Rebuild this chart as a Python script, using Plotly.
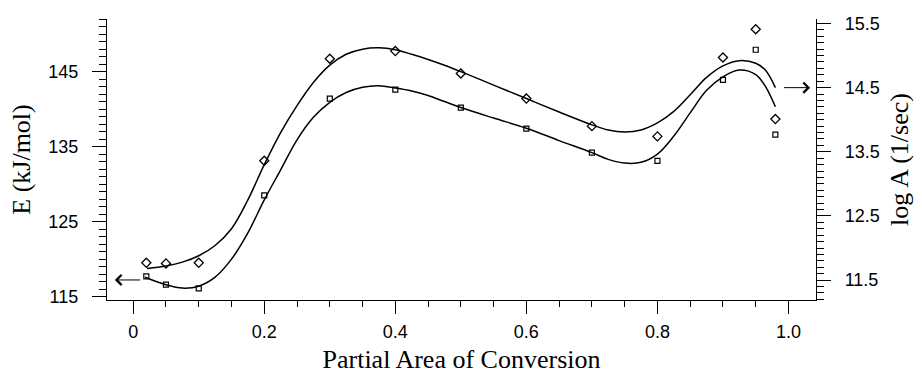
import plotly.graph_objects as go

# Measured points
conversion = [0.02, 0.05, 0.1, 0.2, 0.3, 0.4, 0.5, 0.6, 0.7, 0.8, 0.9, 0.95, 0.98]
E_kJmol = [117.7, 116.6, 116.1, 128.5, 141.4, 142.6, 140.2, 137.4, 134.2, 133.1, 143.9, 147.9, 136.6]
logA = [11.77, 11.76, 11.77, 13.36, 14.95, 15.07, 14.72, 14.33, 13.90, 13.74, 14.97, 15.41, 14.01]

# Fitted curves
fitA_x = [0.021, 0.05, 0.075, 0.1, 0.125, 0.15, 0.175, 0.2, 0.225, 0.25, 0.275, 0.3, 0.325, 0.35,
          0.375, 0.4, 0.425, 0.45, 0.475, 0.5, 0.55, 0.6, 0.65, 0.7, 0.725, 0.75, 0.775, 0.8,
          0.825, 0.85, 0.875, 0.9, 0.925, 0.95, 0.965, 0.98]
fitA_y = [11.68, 11.72, 11.78, 11.88, 12.04, 12.30, 12.75, 13.30, 13.80, 14.22, 14.58, 14.85, 15.02, 15.10,
          15.12, 15.09, 15.02, 14.94, 14.85, 14.75, 14.54, 14.33, 14.12, 13.92, 13.84, 13.81, 13.84, 13.95,
          14.13, 14.39, 14.66, 14.84, 14.92, 14.88, 14.77, 14.50]
fitE_x = [0.018, 0.05, 0.075, 0.1, 0.125, 0.15, 0.175, 0.2, 0.225, 0.25, 0.275, 0.3, 0.325, 0.35,
          0.375, 0.4, 0.425, 0.45, 0.475, 0.5, 0.55, 0.6, 0.65, 0.7, 0.725, 0.75, 0.775, 0.8,
          0.825, 0.85, 0.875, 0.9, 0.925, 0.95, 0.965, 0.98]
fitE_y = [117.6, 116.6, 116.15, 116.4, 117.6, 120.0, 123.5, 127.9, 131.9, 135.9, 138.9, 140.9, 142.2, 142.9,
          143.1, 142.8, 142.4, 141.8, 141.0, 140.2, 138.8, 137.45, 135.8, 134.2, 133.3, 132.8, 132.9, 134.0,
          136.4, 139.5, 142.5, 144.3, 145.2, 144.6, 143.0, 140.3]

# Axis settings
x_range = [-0.040, 1.042]
yE_range = [114.56, 152.0]
yA_range = [11.19, 15.57]
arrowE = dict(tail_x=0.013, head_x=-0.028, y=117.23)
arrowA = dict(tail_x=0.991, head_x=1.033, y=14.5)

SANS = "Liberation Sans, Arial, sans-serif"
SERIF = "Liberation Serif, Times New Roman, serif"

fig = go.Figure()
fig.add_trace(go.Scatter(x=fitE_x, y=fitE_y, mode="lines", line=dict(color="black", width=1.5, shape="spline", smoothing=1),
                         yaxis="y", showlegend=False, hoverinfo="skip"))
fig.add_trace(go.Scatter(x=fitA_x, y=fitA_y, mode="lines", line=dict(color="black", width=1.5, shape="spline", smoothing=1),
                         yaxis="y2", showlegend=False, hoverinfo="skip"))
fig.add_trace(go.Scatter(x=conversion, y=E_kJmol, mode="markers",
                         marker=dict(symbol="square-open", size=5, color="black", line=dict(width=1.2)),
                         yaxis="y", showlegend=False))
fig.add_trace(go.Scatter(x=conversion, y=logA, mode="markers",
                         marker=dict(symbol="diamond-open", size=7, color="black", line=dict(width=1.3)),
                         yaxis="y2", showlegend=False))

fig.add_annotation(x=arrowE["head_x"], y=arrowE["y"], ax=arrowE["tail_x"], ay=arrowE["y"],
                   xref="x", yref="y", axref="x", ayref="y", text="", showarrow=True,
                   arrowhead=4, arrowsize=2, arrowwidth=1, arrowcolor="black")
fig.add_annotation(x=arrowA["head_x"], y=arrowA["y"], ax=arrowA["tail_x"], ay=arrowA["y"],
                   xref="x", yref="y2", axref="x", ayref="y2", text="", showarrow=True,
                   arrowhead=4, arrowsize=2, arrowwidth=1, arrowcolor="black")

fig.update_layout(
    width=922, height=376,
    margin=dict(l=107, r=106, t=19, b=76),
    paper_bgcolor="white", plot_bgcolor="white",
    xaxis=dict(range=x_range, automargin=False, showgrid=False, zeroline=False, showline=True, linecolor="black", linewidth=1.2,
               ticks="outside", ticklen=13, tickwidth=1.2, tickcolor="black",
               tickmode="array", tickvals=[0, 0.2, 0.4, 0.6, 0.8, 1.0], ticktext=["0", "0.2", "0.4", "0.6", "0.8", "1.0"],
               minor=dict(dtick=0.05, tick0=0, ticks="outside", ticklen=6, tickwidth=1.2, tickcolor="black", showgrid=False),
               tickfont=dict(family=SANS, size=18, color="black"), ticklabelstandoff=2,
               title=dict(text="Partial Area of Conversion", font=dict(family=SERIF, size=26, color="black"), standoff=9)),
    yaxis=dict(range=yE_range, automargin=False, showgrid=False, zeroline=False, showline=True, linecolor="black", linewidth=1.2,
               ticks="outside", ticklen=14, tickwidth=1.2, tickcolor="black",
               tick0=115, dtick=10,
               minor=dict(dtick=1, tick0=115, ticks="outside", ticklen=7, tickwidth=1, tickcolor="black", showgrid=False),
               tickfont=dict(family=SANS, size=18, color="black"), ticklabelstandoff=10,
               title=dict(text="E (kJ/mol)", font=dict(family=SERIF, size=26, color="black"), standoff=10)),
    yaxis2=dict(range=yA_range, automargin=False, overlaying="y", side="right", anchor="x", showgrid=False, zeroline=False,
                showline=True, linecolor="black", linewidth=1.2,
                ticks="outside", ticklen=14, tickwidth=1.2, tickcolor="black",
                tick0=11.5, dtick=1, tickformat=".1f",
                minor=dict(dtick=0.1, tick0=11.5, ticks="outside", ticklen=7, tickwidth=1, tickcolor="black", showgrid=False),
                tickfont=dict(family=SANS, size=18, color="black"), ticklabelstandoff=10,
                title=dict(text="log A (1/sec)", font=dict(family=SERIF, size=26, color="black"), standoff=11)),
)

fig.write_html("out.html")
